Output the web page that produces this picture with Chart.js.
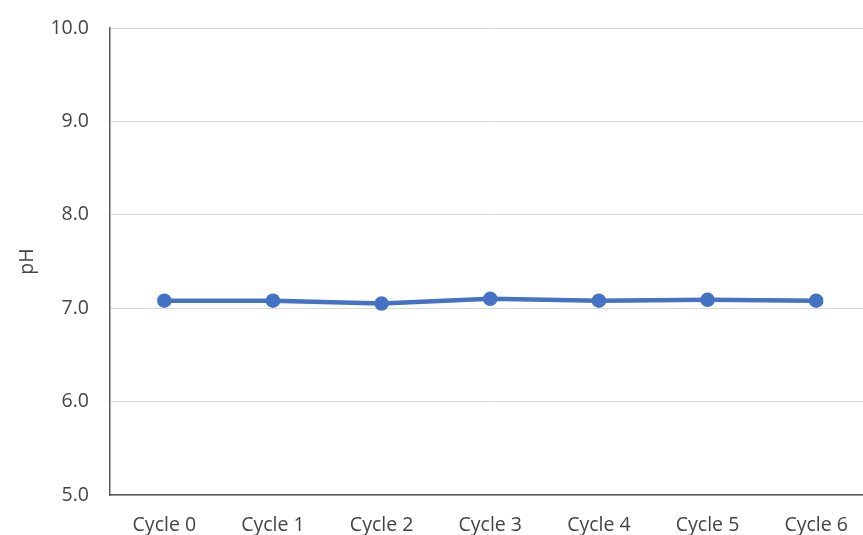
<!DOCTYPE html>
<html>
<head>
<meta charset="utf-8">
<script src="https://cdn.jsdelivr.net/npm/chart.js@4"></script>
<style>
  html, body { margin: 0; padding: 0; background: #fff; overflow: hidden; }
  #wrap { width: 863px; height: 535px; overflow: hidden; }
  canvas { display: block; }
</style>
</head>
<body>
<!-- canvas is a bit wider than the window: the original plot is cut off on the right -->
<div id="wrap"><canvas id="phChart" width="880" height="535"></canvas></div>
<script>
var cycles = ['Cycle 0', 'Cycle 1', 'Cycle 2', 'Cycle 3', 'Cycle 4', 'Cycle 5', 'Cycle 6'];
var phValues = [7.08, 7.08, 7.05, 7.10, 7.08, 7.09, 7.08];
var yMin = 5.0;
var yMax = 10.0;

var ctx = document.getElementById('phChart');
var phChart = new Chart(ctx, {
    type: 'line',
    data: {
        labels: cycles,
        datasets: [{
            label: 'pH',
            data: phValues,
            borderColor: '#4472C4',
            backgroundColor: '#4472C4',
            borderWidth: 4.5,
            pointRadius: 5,
            pointHoverRadius: 5,
            tension: 0
        }]
    },
    options: {
        responsive: false,
        animation: false,
        layout: { padding: { top: 28, right: 0, left: 0, bottom: 0 } },
        plugins: {
            legend: { display: false },
            tooltip: { enabled: false }
        },
        scales: {
            x: {
                offset: true,
                grid: { display: false, drawTicks: false },
                border: { color: '#595959', width: 1.5 },
                ticks: {
                    color: '#444444',
                    font: { family: 'Open Sans', size: 19.5 },
                    padding: 19,
                    maxRotation: 0
                },
                afterFit: function (scale) { scale.height = 40; }
            },
            y: {
                min: yMin,
                max: yMax,
                grid: { color: '#d9d9d9', lineWidth: 1, drawTicks: false },
                border: { color: '#595959', width: 1.5 },
                ticks: {
                    stepSize: 1,
                    color: '#444444',
                    font: { family: 'Open Sans', size: 19.5 },
                    padding: 21,
                    callback: function (v) { return v.toFixed(1); }
                },
                title: {
                    display: true,
                    text: 'pH',
                    color: '#444444',
                    font: { family: 'Open Sans', size: 19.5 },
                    padding: { top: 16 }
                },
                afterFit: function (scale) {
                    scale.width = 110;
                    // top label may stick out above the plot, padding handles it
                    scale.paddingTop = 0;
                    scale.paddingBottom = 0;
                }
            }
        }
    }
});
</script>
</body>
</html>
